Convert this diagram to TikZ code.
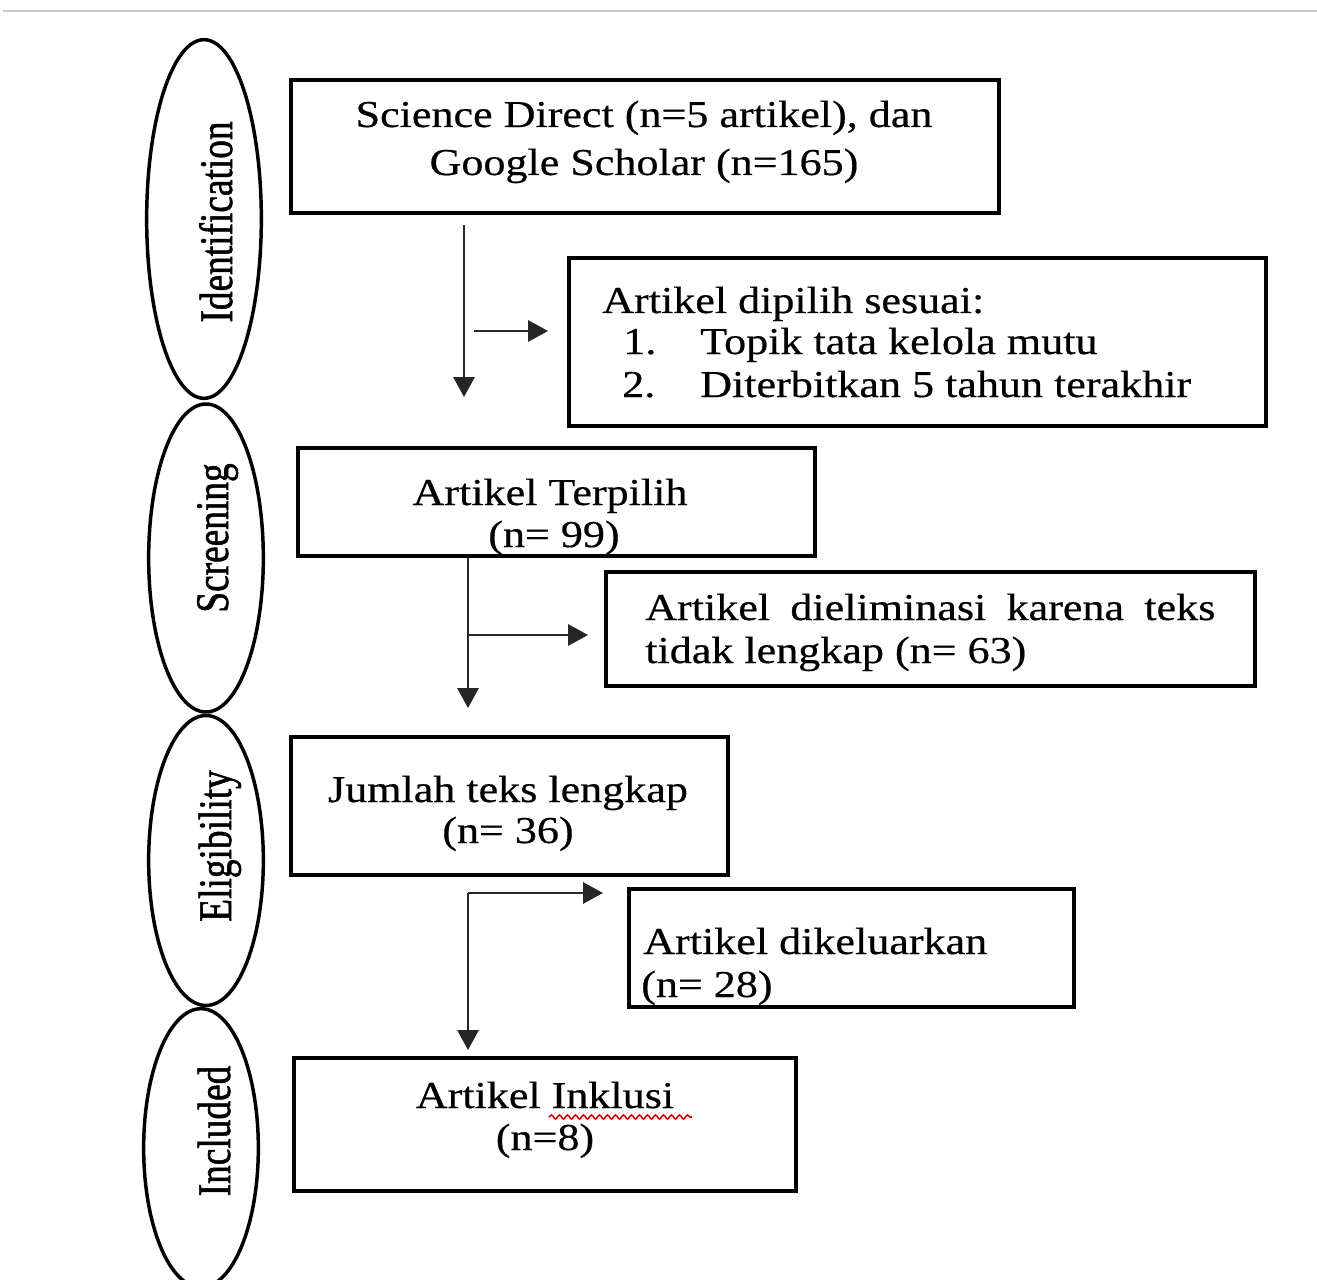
\documentclass[tikz,border=0pt]{standalone}
\usepackage{fontspec}
\setmainfont{Liberation Serif}[FakeStretch=1.16,FakeBold=0.5]
\newfontfamily\rotfont{Liberation Serif}[FakeBold=1.3]
\usetikzlibrary{arrows.meta,shapes.geometric,decorations.pathmorphing}
\begin{document}
\begin{tikzpicture}[x=0.75pt,y=-0.75pt,
  box/.style={draw, rectangle, line width=3pt, inner sep=0pt},
  oval/.style={draw, ellipse, line width=2.6pt, inner sep=0pt, minimum width=86pt},
  arr/.style={draw=black!85, line width=1.5pt, -{Triangle[length=15pt,width=16pt]}},
  txt/.style={inner sep=0pt, font=\fontsize{28.5pt}{34pt}\selectfont},
  lab/.style={rotate=90, anchor=base, inner sep=0pt, font=\rotfont\fontsize{28pt}{34pt}\selectfont}]
\useasboundingbox (0,0) rectangle (1317,1280);
\draw[line width=1.5pt, draw=black!22] (3,11) -- (1317,11);
% phase ovals
\node[oval, minimum height=269pt] (e1) at (204,219) {};
\node[oval, minimum height=231pt] (e2) at (206,558) {};
\node[oval, minimum height=217.5pt] (e3) at (206,860.5) {};
\node[oval, minimum height=209pt] (e4) at (201,1148) {};
\node[lab] (l1) at (232,222) {\scalebox{1}[1.25]{Identification}};
\node[lab] (l2) at (228,538) {\scalebox{1}[1.25]{Screening}};
\node[lab] (l3) at (231,846) {\scalebox{1}[1.25]{Eligibility}};
\node[lab] (l4) at (230,1131) {\scalebox{1}[1.25]{Included}};
% boxes
\node[box, minimum width=531pt, minimum height=100pt] (b1) at (645,146.5) {};
\node[box, minimum width=523pt, minimum height=126pt] (b2) at (917.5,342) {};
\node[box, minimum width=388pt, minimum height=81pt] (b3) at (556.5,502) {};
\node[box, minimum width=487pt, minimum height=86pt] (b4) at (930.5,629) {};
\node[box, minimum width=328pt, minimum height=103.5pt] (b5) at (509.5,806) {};
\node[box, minimum width=334pt, minimum height=88.5pt] (b6) at (851.5,948) {};
\node[box, minimum width=376.5pt, minimum height=100pt] (b7) at (545,1124.5) {};
% texts
\node[txt, anchor=base] (t1a) at (644,127) {Science Direct (n=5 artikel), dan};
\node[txt, anchor=base] (t1b) at (644,175) {Google Scholar (n=165)};
\node[txt, anchor=base west] (t2a) at (602,313) {Artikel dipilih sesuai:};
\node[txt, anchor=base west] (t2b) at (623,354) {\makebox[57.75pt][l]{1.}Topik tata kelola mutu};
\node[txt, anchor=base west] (t2c) at (622,397) {\makebox[58.5pt][l]{2.}Diterbitkan 5 tahun terakhir};
\node[txt, anchor=base] (t3a) at (550,505) {Artikel Terpilih};
\node[txt, anchor=base] (t3b) at (554,547) {(n= 99)};
\node[txt, anchor=base west] (t4a) at (645,620) {\makebox[427.5pt][s]{Artikel\hfill dieliminasi\hfill karena\hfill teks}};
\node[txt, anchor=base west] (t4b) at (645,663) {tidak lengkap (n= 63)};
\node[txt, anchor=base] (t5a) at (508,802) {Jumlah teks lengkap};
\node[txt, anchor=base] (t5b) at (508,843) {(n= 36)};
\node[txt, anchor=base west] (t6a) at (643,954) {Artikel dikeluarkan};
\node[txt, anchor=base west] (t6b) at (641,997) {(n= 28)};
\node[txt, anchor=base] (t7a) at (545,1108) {Artikel Inklusi};
\node[txt, anchor=base] (t7b) at (545,1150) {(n=8)};
\draw[red!85!black, line width=1.2pt, decorate, decoration={snake, amplitude=1.5pt, segment length=6pt}] (549,1117) -- (692,1117);
% connectors
\coordinate (a1s) at (464,225);
\coordinate (a1e) at (464,397);
\coordinate (a1hs) at (474,331);
\coordinate (a1he) at (548,331);
\coordinate (a2s) at (468,558);
\coordinate (a2e) at (468,708);
\coordinate (a2hs) at (468,635);
\coordinate (a2he) at (588,635);
\coordinate (a3s) at (468,893);
\coordinate (a3e) at (468,1050);
\coordinate (a3he) at (603,893);
\draw[arr] (a1s) -- (a1e);
\draw[arr] (a1hs) -- (a1he);
\draw[arr] (a2s) -- (a2e);
\draw[arr] (a2hs) -- (a2he);
\draw[arr] (a3s) -- (a3e);
\draw[arr] (a3s) -- (a3he);
\end{tikzpicture}
\end{document}
